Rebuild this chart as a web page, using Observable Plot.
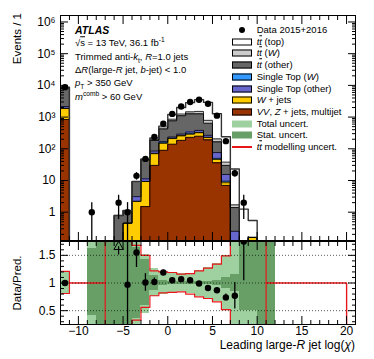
<!DOCTYPE html>
<html><head><meta charset="utf-8">
<script src="https://cdn.jsdelivr.net/npm/d3@7"></script>
<script src="https://cdn.jsdelivr.net/npm/@observablehq/plot@0.6"></script>
<style>
html,body{margin:0;padding:0;background:#fff;}
#wrap{position:relative;width:374px;height:359px;font-family:"Liberation Sans",Arial,Helvetica,sans-serif;color:#000;overflow:hidden;}
#wrap svg{position:absolute;left:0;}
.t{position:absolute;white-space:nowrap;line-height:1;transform:translateY(-50%);font-size:9.5px;}
.t sub,.t sup{font-size:70%;line-height:0;}
.ov{text-decoration:overline;}
.box{position:absolute;width:20px;height:7px;box-sizing:border-box;transform:translateY(-50%);}
</style></head><body><div id="wrap"></div>
<script>
// ---------- data (bins of width 1, lower edges) ----------
const binLow = [-12,-11,-10,-9,-8,-7,-6,-5,-4,-3,-2,-1,0,1,2,3,4,5,6,7,8,9,10,11,12,13,14,15,16,17,18,19];
const vvZjets   = [840,0,0,0,0,0,0,0,0,1.5,30,90,140,185,230,250,190,36,7,0,0,0,0,0,0,0,0,0,0,0,0,0];
const wJets     = [1020,0,0,0,0,0,0,0.45,2.2,7.8,40,60,70,70,60,70,35,10,1.5,0,0,0.16,0,0,0,0,0,0,0,0,0,0];
const stopW     = [30,0,0,0,0,0,0,0,0,0,2,3,5,6,8,8,6,4,1,0.03,0,0,0,0,0,0,0,0,0,0,0,0];
const stopOther = [260,0,0,0,0,0,0,0,0.9,2,13,15,20,30,42,52,35,26,6,0.22,0,0,0,0,0,0,0,0,0,0,0,0];
const ttOther   = [6150,0,0,0,0,0,0.79,0.68,6.2,33.7,98,252,525,809,920,880,374,89,14.5,1.15,0.05,0,0,0,0,0,0,0,0,0,0,0];
const ttW       = [200,0,0,0,0,0,0,0,0,1,10,30,100,150,200,250,150,40,8,0.3,0,0,0,0,0,0,0,0,0,0,0,0];
const ttTop     = [300,0,0,0,0,0,0,0,0,2,27,70,340,750,1390,2040,2110,1075,202,21.3,1.2,0.39,0,0,0,0,0,0,0,0,0,0];
const dataEvents= [8800,0,0,1,0,0,2,1,14,48,235,615,1260,2150,3000,3530,2640,1110,174,17,2,0,0,0,0,0,0,0,0,0,0,0];

const ratio      = [1.0,null,null,null,null,null,null,0.97,1.55,1.01,1.02,1.19,1.05,1.07,1.05,0.99,0.91,0.87,0.74,0.77,1.75,null,null,null,null,null,null,null,null,null,null,null];
const ratioErrUp = [0.01,0,0,0,0,0,0,1.0,0.27,0.16,0.07,0.04,0.03,0.025,0.02,0.02,0.02,0.03,0.06,0.24,0,0,0,0,0,0,0,0,0,0,0,0];
const ratioErrDn = [0.01,0,0,0,0,0,0,1.0,0.27,0.16,0.07,0.04,0.03,0.025,0.02,0.02,0.02,0.03,0.06,0.24,0.71,0,0,0,0,0,0,0,0,0,0,0];
const ratioArrowX = [-5.5];
const ratioArrowY = [1.655];

const totHi = [1.21,null,null,3,3,3,3,3,3,1.52,1.26,1.21,1.19,1.17,1.18,1.22,1.28,1.35,1.50,3,3,3,3,3,null,null,null,null,null,null,null,null];
const totLo = [0.81,null,null,-1,-1,-1,-1,-1,-1,0.45,0.75,0.80,0.82,0.84,0.81,0.76,0.72,0.66,0.51,-1,-1,-1,-1,-1,null,null,null,null,null,null,null,null];
const statHi= [1.02,null,null,1.62,3,3,3,3,1.65,1.42,1.14,1.05,1.03,1.02,1.02,1.02,1.03,1.05,1.10,1.15,3,3,3,3,null,null,null,null,null,null,null,null];
const statLo= [0.98,null,null,0.42,-1,-1,-1,-1,0.35,0.60,0.87,0.95,0.97,0.98,0.98,0.98,0.97,0.95,0.90,0.84,0.50,0.50,-1,-1,null,null,null,null,null,null,null,null];
const modHi = [1.21,1,1,1,1,3,3,3,1.68,1.50,1.22,1.20,1.19,1.16,1.17,1.22,1.27,1.34,1.49,3,3,3,3,1,1,1,1,1,1,1,1,1];
const modLo = [0.81,1,1,1,1,-1,-1,-1,0.33,0.56,0.77,0.82,0.83,0.84,0.80,0.75,0.72,0.66,0.52,-1,-1,-1,-1,1,1,1,1,1,1,1,1,1];

const xMajorTicks = [-10,-5,0,5,10,15,20];
const yMainTicks = [1,10,100,1000,10000,100000,1000000];
const yMainLabels = ["1","10","10²","10³","10⁴","10⁵","10⁶"];
const yRatioTicks = [0.5,1,1.5];
const yRatioLabels = ["0.5","1","1.5"];

const colors = {vv:"#993300", w:"#ffcc00", stW:"#3399ff", stO:"#6666cc", ttO:"#666666", ttW:"#cccccc", ttT:"#ffffff",
  tot:"#9fd09f", stat:"#679f67", mod:"#e8161b"};

// ---------- derived ----------
const FLOOR = 1e-4;
const xMinorTicks = d3.range(-12, 22).filter(v => !xMajorTicks.includes(v));
const yMainMinor = [];
for (let k = -1; k <= 6; k++) for (let m = 2; m <= 9; m++) { const v = m * Math.pow(10, k); if (v >= 0.128 && v <= 1.6e6) yMainMinor.push(v); }
const yRatioMinor = d3.range(0.3, 1.75, 0.1).map(v => +v.toFixed(2)).filter(v => !yRatioTicks.includes(v));
const lastEdge = binLow[binLow.length - 1] + 1;

const comps = [
  {vals: vvZjets, color: colors.vv}, {vals: wJets, color: colors.w}, {vals: stopW, color: colors.stW},
  {vals: stopOther, color: colors.stO}, {vals: ttOther, color: colors.ttO}, {vals: ttW, color: colors.ttW},
  {vals: ttTop, color: colors.ttT}];
let cum = binLow.map(() => 0);
const stackRects = [], stackLines = [];
comps.forEach((c, ci) => {
  const next = cum.map((v, i) => v + c.vals[i]);
  binLow.forEach((x, i) => { if (c.vals[i] > 0) stackRects.push({x1: x, x2: x + 1, y1: Math.max(cum[i], FLOOR), y2: next[i], fill: c.color}); });
  const pts = binLow.map((x, i) => ({x, y: Math.max(next[i], FLOOR)}));
  pts.push({x: lastEdge, y: Math.max(next[next.length - 1], FLOOR)});
  stackLines.push({pts, total: ci === comps.length - 1});
  cum = next;
});
const dataPts = binLow.map((x, i) => ({x: x + 0.5, n: dataEvents[i]})).filter(d => d.n > 0);
const ratioPts = binLow.map((x, i) => ({x: x + 0.5, r: ratio[i], up: ratioErrUp[i], dn: ratioErrDn[i]})).filter(d => d.r != null);
const bandRects = (hi, lo) => binLow.map((x, i) => ({x1: x, x2: x + 1, y1: lo[i], y2: hi[i]})).filter(d => d.y1 != null);
const modLine = arr => { const p = binLow.map((x, i) => ({x, y: arr[i]})); p.push({x: lastEdge, y: arr[arr.length - 1]}); p.push({x: lastEdge, y: -1}); return p; };

const font = '"Liberation Sans", Arial, sans-serif';
const W = 374, ML = 60, MR = 19;

function tickAxes(yMajor, yMinor, yFmt) {
  return [
    Plot.axisX({anchor: "bottom", ticks: xMajorTicks, tickSize: -8, tickFormat: () => "", label: null}),
    Plot.axisX({anchor: "bottom", ticks: xMinorTicks, tickSize: -4, tickFormat: () => "", label: null}),
    Plot.axisX({anchor: "top", ticks: xMajorTicks, tickSize: -8, tickFormat: () => "", label: null}),
    Plot.axisX({anchor: "top", ticks: xMinorTicks, tickSize: -4, tickFormat: () => "", label: null}),
    Plot.axisY({anchor: "left", ticks: yMajor, tickSize: -8, tickFormat: () => "", label: null}),
    Plot.axisY({anchor: "left", ticks: yMinor, tickSize: -4, tickFormat: () => "", label: null}),
    Plot.axisY({anchor: "right", ticks: yMajor, tickSize: -8, tickFormat: () => "", label: null}),
    Plot.axisY({anchor: "right", ticks: yMinor, tickSize: -4, tickFormat: () => "", label: null}),
    Plot.axisY({anchor: "left", ticks: yMajor, tickSize: 0, tickPadding: 5, tickFormat: yFmt, label: null}),
  ];
}

const main = Plot.plot({
  width: W, height: 241, marginLeft: ML, marginRight: MR, marginTop: 15, marginBottom: 1,
  style: {fontFamily: font, fontSize: "12px", background: "transparent", overflow: "visible"},
  x: {domain: [-12, 21], axis: null},
  y: {type: "log", domain: [0.128, 1.6e6], axis: null},
  color: {type: "identity"},
  marks: [
    Plot.rect(stackRects, {x1: "x1", x2: "x2", y1: "y1", y2: "y2", fill: "fill", inset: 0, shapeRendering: "crispEdges", clip: true}),
    ...stackLines.map(s => Plot.line(s.pts, {x: "x", y: "y", curve: "step-after", stroke: s.total ? "#333" : "#000", strokeWidth: s.total ? 1.4 : 0.8, clip: true})),
    Plot.ruleX(dataPts, {x: "x", y1: d => Math.max(d.n - Math.sqrt(d.n), FLOOR), y2: d => d.n + Math.sqrt(d.n), stroke: "#000", strokeWidth: 1.3, clip: true}),
    Plot.dot(dataPts, {x: "x", y: "n", r: 3.2, fill: "#000", stroke: "none", clip: true}),
    Plot.frame({stroke: "#000", strokeWidth: 1}),
    ...tickAxes(yMainTicks, yMainMinor, d => yMainLabels[yMainTicks.indexOf(d)])
  ]
});
main.style.top = "0px";

const ratioPlot = Plot.plot({
  width: W, height: 119, marginLeft: ML, marginRight: MR, marginTop: 1, marginBottom: 35,
  style: {fontFamily: font, fontSize: "12px", background: "transparent", overflow: "visible"},
  x: {domain: [-12, 21], axis: null},
  y: {domain: [0.25, 1.75], axis: null},
  marks: [
    Plot.rect(bandRects(totHi, totLo), {x1: "x1", x2: "x2", y1: "y1", y2: "y2", fill: colors.tot, inset: 0, shapeRendering: "crispEdges", clip: true}),
    Plot.rect(bandRects(statHi, statLo), {x1: "x1", x2: "x2", y1: "y1", y2: "y2", fill: colors.stat, inset: 0, shapeRendering: "crispEdges", clip: true}),
    Plot.line(modLine(modHi), {x: "x", y: "y", curve: "step-after", stroke: colors.mod, strokeWidth: 1.2, clip: true}),
    Plot.line(modLine(modLo), {x: "x", y: "y", curve: "step-after", stroke: colors.mod, strokeWidth: 1.2, clip: true}),
    Plot.ruleY(yRatioTicks, {stroke: "#000", strokeWidth: 0.8, strokeDasharray: "1,2", strokeOpacity: 0.8}),
    Plot.ruleX(ratioPts, {x: "x", y1: d => d.r - d.dn, y2: d => d.r + d.up, stroke: "#000", strokeWidth: 1.3, clip: true}),
    Plot.dot(ratioPts, {x: "x", y: "r", r: 3.2, fill: "#000", stroke: "none", clip: true}),
    Plot.ruleX(ratioArrowX, {x: d => d, y1: ratioArrowY[0] - 0.15, y2: ratioArrowY[0], stroke: "#000", strokeWidth: 1.2}),
    Plot.dot(ratioArrowX, {x: d => d, y: () => ratioArrowY[0], symbol: "triangle", r: 3.5, fill: "none", stroke: "#000", strokeWidth: 1}),
    Plot.frame({stroke: "#000", strokeWidth: 1}),
    ...tickAxes(yRatioTicks, yRatioMinor, d => yRatioLabels[yRatioTicks.indexOf(d)]),
    Plot.axisX({anchor: "bottom", ticks: xMajorTicks, tickSize: 0, tickPadding: 2, label: null})
  ]
});
ratioPlot.style.top = "240px";

const wrap = document.getElementById("wrap");
wrap.appendChild(main);
wrap.appendChild(ratioPlot);

// ---------- text ----------
function addText(html, left, y, extra = "") {
  const d = document.createElement("div");
  d.className = "t"; d.innerHTML = html;
  d.style.left = left + "px"; d.style.top = y + "px";
  d.style.cssText += extra;
  wrap.appendChild(d);
  return d;
}
addText("ATLAS", 75, 30, "font-weight:bold;font-style:italic;font-size:10.5px;");
addText('√<span class="ov">s</span> = 13 TeV, 36.1 fb<sup>-1</sup>', 75, 43);
addText('Trimmed anti-<i>k</i><sub>t</sub>, <i>R</i>=1.0 jets', 75, 56.5);
addText('Δ<i>R</i>(large-<i>R</i> jet, <i>b</i>-jet) &lt; 1.0', 75, 70);
addText('<i>p</i><sub>T</sub> &gt; 350 GeV', 75, 83);
addText('<i>m</i><sup>comb</sup> &gt; 60 GeV', 75, 96.5);

const tt = '<i>t</i><i class="ov">t</i>';
const legendItems = [
  {label: "Data 2015+2016", type: "dot"},
  {label: tt + " (top)", type: "box", fill: colors.ttT},
  {label: tt + " (<i>W</i>)", type: "box", fill: colors.ttW},
  {label: tt + " (other)", type: "box", fill: colors.ttO},
  {label: "Single Top (<i>W</i>)", type: "box", fill: colors.stW},
  {label: "Single Top (other)", type: "box", fill: colors.stO},
  {label: "<i>W</i> + jets", type: "box", fill: colors.w},
  {label: "<i>VV</i>, <i>Z</i> + jets, multijet", type: "box", fill: colors.vv},
  {label: "Total uncert.", type: "band", fill: colors.tot},
  {label: "Stat. uncert.", type: "band", fill: colors.stat},
  {label: tt + " modelling uncert.", type: "line", fill: colors.mod}
];
legendItems.forEach((it, i) => {
  const y = 30 + i * 11.7;
  if (it.type === "dot") {
    const d = document.createElement("div");
    d.style.cssText = `position:absolute;left:${241.7 - 3}px;top:${y - 3}px;width:6px;height:6px;border-radius:50%;background:#000;`;
    wrap.appendChild(d);
  } else if (it.type === "line") {
    const d = document.createElement("div");
    d.style.cssText = `position:absolute;left:232px;top:${y - 0.6}px;width:20px;height:1.2px;background:${it.fill};`;
    wrap.appendChild(d);
  } else {
    const d = document.createElement("div");
    d.className = "box";
    d.style.left = "232px"; d.style.top = y + "px"; d.style.background = it.fill;
    if (it.type === "box") d.style.border = "1px solid #000";
    wrap.appendChild(d);
  }
  addText(it.label, 256.7, y);
});

// axis titles
const ev = document.createElement("div");
ev.style.cssText = "position:absolute;left:18px;top:13px;white-space:nowrap;font-size:11.5px;line-height:1;transform-origin:0 0;transform:rotate(-90deg) translate(-100%,-50%);";
ev.textContent = "Events / 1";
wrap.appendChild(ev);
const dp = document.createElement("div");
dp.style.cssText = "position:absolute;left:18px;top:282.5px;white-space:nowrap;font-size:11.5px;line-height:1;transform-origin:0 0;transform:rotate(-90deg) translate(-50%,-50%);";
dp.textContent = "Data/Pred.";
wrap.appendChild(dp);
const xt = document.createElement("div");
xt.style.cssText = "position:absolute;right:19px;top:345px;white-space:nowrap;font-size:12px;line-height:1;transform:translateY(-50%);";
xt.innerHTML = "Leading large-<i>R</i> jet log(<i>χ</i>)";
wrap.appendChild(xt);
</script></body></html>
